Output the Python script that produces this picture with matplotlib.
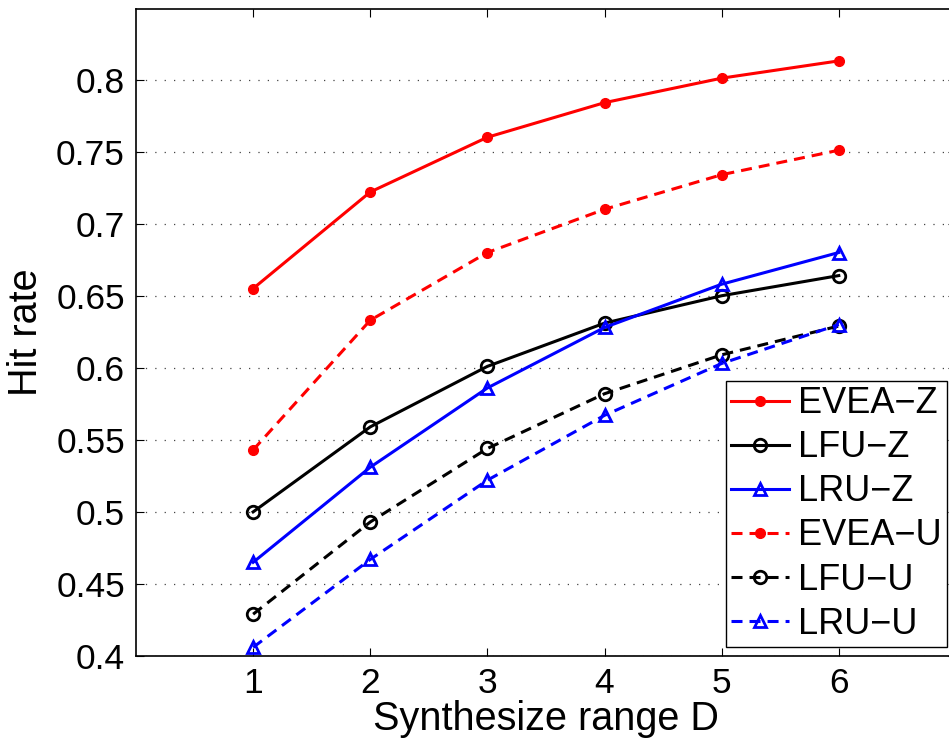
import matplotlib
matplotlib.use("Agg")
import matplotlib.pyplot as plt

plt.rcParams['font.family'] = ['Liberation Sans', 'DejaVu Sans']

x = [1, 2, 3, 4, 5, 6]
evea_z = [0.655, 0.722, 0.760, 0.784, 0.801, 0.813]
lfu_z = [0.500, 0.559, 0.601, 0.631, 0.650, 0.664]
lru_z = [0.465, 0.531, 0.586, 0.628, 0.658, 0.680]
evea_u = [0.543, 0.633, 0.680, 0.710, 0.734, 0.751]
lfu_u = [0.429, 0.493, 0.544, 0.582, 0.609, 0.629]
lru_u = [0.406, 0.467, 0.522, 0.567, 0.603, 0.630]
labels = ['EVEA\u2212Z', 'LFU\u2212Z', 'LRU\u2212Z', 'EVEA\u2212U', 'LFU\u2212U', 'LRU\u2212U']
yticks = [0.4, 0.45, 0.5, 0.55, 0.6, 0.65, 0.7, 0.75, 0.8]

fig = plt.figure(figsize=(9.49, 7.44), dpi=100)
ax = fig.add_axes([0.1433, 0.1183, 0.864, 0.8696])

lw = 2.2
dash = (3.6, 2.3)
ax.plot(x, evea_z, color='red', lw=lw, marker='o', ms=7, mfc='red', mec='red', label=labels[0])
ax.plot(x, lfu_z, color='black', lw=lw, marker='o', ms=9, mfc='none', mec='black', mew=2, label=labels[1])
ax.plot(x, lru_z, color='blue', lw=lw, marker='^', ms=9, mfc='none', mec='blue', mew=2, label=labels[2])
ax.plot(x, evea_u, color='red', lw=lw, ls=(0, dash), marker='o', ms=7, mfc='red', mec='red', label=labels[3])
ax.plot(x, lfu_u, color='black', lw=lw, ls=(0, dash), marker='o', ms=9, mfc='none', mec='black', mew=2, label=labels[4])
ax.plot(x, lru_u, color='blue', lw=lw, ls=(0, dash), marker='^', ms=9, mfc='none', mec='blue', mew=2, label=labels[5])

ax.set_xlim(0, 7)
ax.set_ylim(0.4, 0.849)
ax.set_xticks(x)
ax.set_yticks(yticks)
ax.set_yticklabels(['0.4', '0.45', '0.5', '0.55', '0.6', '0.65', '0.7', '0.75', '0.8'])
ax.yaxis.grid(True, ls=(0, (1, 6.5)), color='#444444', lw=0.9)
ax.tick_params(axis='both', direction='in', length=6, width=0.8, labelsize=25.5,
               top=True, right=True, pad=8)
for s in ax.spines.values():
    s.set_linewidth(1.2)

ax.set_xlabel('Synthesize range D', fontsize=28.5, labelpad=0)
ax.set_ylabel('Hit rate', fontsize=28.5, labelpad=8)

leg = ax.legend(loc='lower right', fontsize=26, frameon=True, fancybox=False,
                edgecolor='black', framealpha=1, borderpad=0.15, labelspacing=0.25,
                handlelength=1.6, handletextpad=0.25, borderaxespad=0.25)
leg.get_frame().set_linewidth(1.0)

fig.savefig('out.png', dpi=100)
